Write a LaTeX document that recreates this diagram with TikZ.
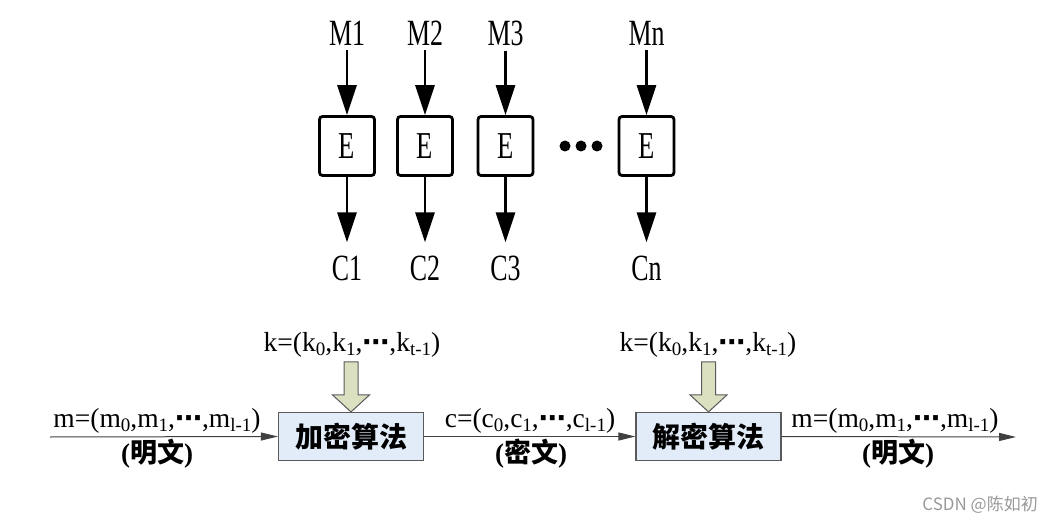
\documentclass[tikz,border=0pt]{standalone}
\usepackage{fontspec}
\usepackage{graphicx}
\setmainfont{Liberation Serif}
\newfontfamily\cjk{Noto Sans CJK SC}
\newfontfamily\dv{DejaVu Sans}
\usetikzlibrary{arrows.meta}
\definecolor{boxfill}{RGB}{226,236,249}
\definecolor{keyfill}{RGB}{218,224,192}
\definecolor{edgegray}{RGB}{90,90,90}
\newcommand\lo[1]{\raisebox{-0.3ex}{\fontsize{19}{19}\selectfont #1}}
\newcommand\narrow[1]{\scalebox{0.7}[1]{#1}}
\newcommand\cnb[1]{{\cjk\bfseries #1}}
\newcommand\dts{{\dv\bfseries\fontsize{27}{27}\selectfont ⋯}}
\begin{document}
\begin{tikzpicture}[x=1pt,y=-1pt,
 toplab/.style={font=\fontsize{37}{37}\selectfont, inner sep=0pt},
 ebox/.style={draw, line width=2.8pt, rounded corners=3pt, minimum width=55pt, minimum height=59pt, inner sep=0pt, font=\fontsize{38}{38}\selectfont},
 bigarrow/.style={line width=2.8pt, -{Triangle[length=30pt,width=19pt]}},
 algbox/.style={draw=edgegray, line width=1.2pt, fill=boxfill, minimum width=145pt, minimum height=48pt, inner sep=0pt, font=\cjk\bfseries\fontsize{28}{28}\selectfont},
 flow/.style={draw=black!75, line width=1pt, -{Triangle[length=17pt,width=8pt]}},
 lab/.style={font=\fontsize{27.5}{27.5}\selectfont, inner sep=0pt},
 cnlab/.style={font=\bfseries\fontsize{27}{27}\selectfont, inner sep=0pt},
 keyarrow/.style={draw=edgegray, line width=1pt, fill=keyfill},
]
\useasboundingbox (0,0) rectangle (1056,526);
% top row
\foreach \x/\i in {347/1, 425/2, 505.5/3, 646.5/n} {
  \node[toplab] (m\i) at (\x,33) {\narrow{M\i}};
  \node[ebox] (e\i) at (\x,146) {\narrow{E}};
  \node[toplab] (c\i) at (\x,268) {\narrow{C\i}};
  \draw[bigarrow, shorten <=5pt] (m\i) -- (e\i);
  \draw[bigarrow, shorten >=13pt] (e\i) -- (c\i);
}
\fill (565,146) circle (5.5) (581,146) circle (5.5) (597,146) circle (5.5);
% bottom flow
\node[algbox] (enc) at (351,436.5) {加密算法};
\node[algbox] (dec) at (708.5,436.5) {解密算法};
\coordinate (in) at (50,437);
\coordinate (out) at (1016,437);
\draw[flow] (in) -- (enc.west);
\draw[flow] (enc.east) -- (dec.west);
\draw[flow] (dec.east) -- (out);
\node[lab] (k1) at (352,345) {k=(k\lo{0},k\lo{1},\dts,k\lo{t-1})};
\node[lab] (k2) at (708,345) {k=(k\lo{0},k\lo{1},\dts,k\lo{t-1})};
\draw[keyarrow, shift={(enc.north)}] (-7,-50) -- (7,-50) -- (7,-17) -- (18.5,-17) -- (0,0) -- (-18.5,-17) -- (-7,-17) -- cycle;
\draw[keyarrow, shift={(dec.north)}] (-7,-50) -- (7,-50) -- (7,-17) -- (18.5,-17) -- (0,0) -- (-18.5,-17) -- (-7,-17) -- cycle;
\node[lab] (mlab1) at (157,421) {m=(m\lo{0},m\lo{1},\dts,m\lo{l-1})};
\node[cnlab] (ptxt1) at (157,454) {(\cnb{明文})};
\node[lab] (clab) at (530,421) {c=(c\lo{0},c\lo{1},\dts,c\lo{l-1})};
\node[cnlab] (ctxt) at (531,454) {(\cnb{密文})};
\node[lab] (mlab2) at (895,421) {m=(m\lo{0},m\lo{1},\dts,m\lo{l-1})};
\node[cnlab] (ptxt2) at (898,454) {(\cnb{明文})};
\node[anchor=east, text=black!40, inner sep=0pt, font=\cjk\fontsize{17}{17}\selectfont] (wm) at (1038,505) {CSDN @陈如初};
\end{tikzpicture}
\end{document}
